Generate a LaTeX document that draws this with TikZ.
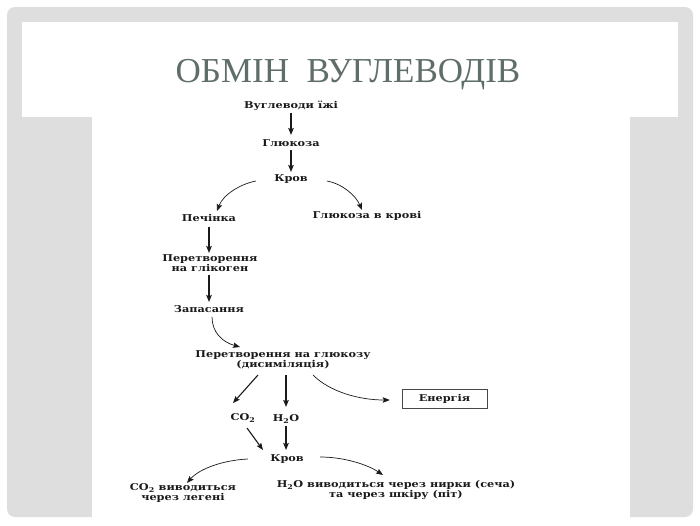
\documentclass[tikz,border=0pt]{standalone}
\usepackage{fontspec}
\setmainfont{DejaVu Serif}
\newfontfamily\titlefont{Liberation Serif}
\newfontfamily\scanfont[FakeStretch=1.2]{DejaVu Serif}
\usetikzlibrary{arrows.meta,calc}
\definecolor{framegray}{HTML}{DEDEDE}
\definecolor{titlecol}{HTML}{5F6E69}
\definecolor{ink}{HTML}{1A1A1A}
\begin{document}
\begin{tikzpicture}[x=1pt,y=-1pt,
  lbl/.style={font=\scanfont\bfseries\fontsize{9.4}{10}\selectfont, text=ink, align=center, inner sep=0pt},
  sarr/.style={draw=ink, line width=1.1pt, -{Stealth[length=7pt,width=5.5pt,inset=1.2pt]}},
  carr/.style={draw=ink, line width=0.7pt, -{Stealth[length=7pt,width=5.5pt,inset=1.2pt]}},
  ebox/.style={lbl, draw=ink!80, line width=0.5pt, minimum width=85pt, minimum height=19pt}
]
\useasboundingbox (0,0) rectangle (700,525);
\fill[white] (0,0) rectangle (700,525);
\fill[framegray, rounded corners=8pt] (7,7) rectangle (693,517);
\fill[white] (22,22) rectangle (678,117);
\fill[white] (92,117) rectangle (630,525);

\node[font=\titlefont\fontsize{35}{35}\selectfont, text=titlecol, anchor=base, inner sep=0pt] (title) at (348,82) {ОБМІН\ \ ВУГЛЕВОДІВ};

\node[lbl] (n1) at (291,106) {Вуглеводи їжі};
\node[lbl] (n2) at (291,143) {Глюкоза};
\node[lbl] (n3) at (291,179) {Кров};
\node[lbl] (n4) at (209,218) {Печінка};
\node[lbl] (n5) at (367,216) {Глюкоза в крові};
\node[lbl] (n6) at (210,263) {Перетворення\\на глікоген};
\node[lbl] (n7) at (209,309) {Запасання};
\node[lbl] (n8) at (283,360) {Перетворення на глюкозу\\(дисиміляція)};
\node[lbl] (n9) at (243,418) {CO\textsubscript{2}};
\node[lbl] (n10) at (286,419) {H\textsubscript{2}O};
\node[ebox] (n11) at (444.5,398.5) {Енергія};
\node[lbl] (n12) at (287,459) {Кров};
\node[lbl] (n13) at (183,493) {CO\textsubscript{2} виводиться\\через легені};
\node[lbl] (n14) at (396,490) {H\textsubscript{2}O виводиться через нирки (сеча)\\та через шкіру (піт)};

\draw[sarr] ($(n1)+(0,7)$) -- ($(n2)+(0,-8)$);
\draw[sarr] ($(n2)+(0,7)$) -- ($(n3)+(0,-7)$);
\draw[carr] ($(n3)+(-35,2)$) .. controls ($(n3)+(-51,5)$) and ($(n4)+(14,-23)$) .. ($(n4)+(8,-7)$);
\draw[carr] ($(n3)+(36,2)$) .. controls ($(n3)+(52,5)$) and ($(n5)+(-11,-20)$) .. ($(n5)+(-5,-6)$);
\draw[sarr] ($(n4)+(0,9)$) -- ($(n6)+(-1,-10)$);
\draw[sarr] ($(n6)+(-1,12)$) -- ($(n7)+(0,-7)$);
\draw[carr] ($(n7)+(3,8)$) .. controls ($(n7)+(3,23)$) and ($(n8)+(-61,-18)$) .. ($(n8)+(-43,-13)$);
\draw[sarr] ($(n8)+(-25,15)$) -- ($(n9)+(-10,-15)$);
\draw[sarr] ($(n8)+(3,15)$) -- ($(n10)+(0,-12)$);
\draw[carr] ($(n8)+(30,15)$) .. controls ($(n8)+(47,32)$) and ($(n11)+(-85,1.5)$) .. ($(n11.west)+(-12,1.5)$);
\draw[sarr] ($(n9)+(4,10)$) -- ($(n12)+(-24,-9)$);
\draw[sarr] ($(n10)+(0,7)$) -- ($(n12)+(-1,-9)$);
\draw[carr] ($(n12)+(-39,0)$) .. controls ($(n12)+(-62,1)$) and ($(n13)+(17,-25)$) .. ($(n13)+(4,-10)$);
\draw[carr] ($(n12)+(33,-2)$) .. controls ($(n12)+(58,-2)$) and ($(n14)+(-28,-25)$) .. ($(n14)+(-13,-15)$);
\end{tikzpicture}
\end{document}
